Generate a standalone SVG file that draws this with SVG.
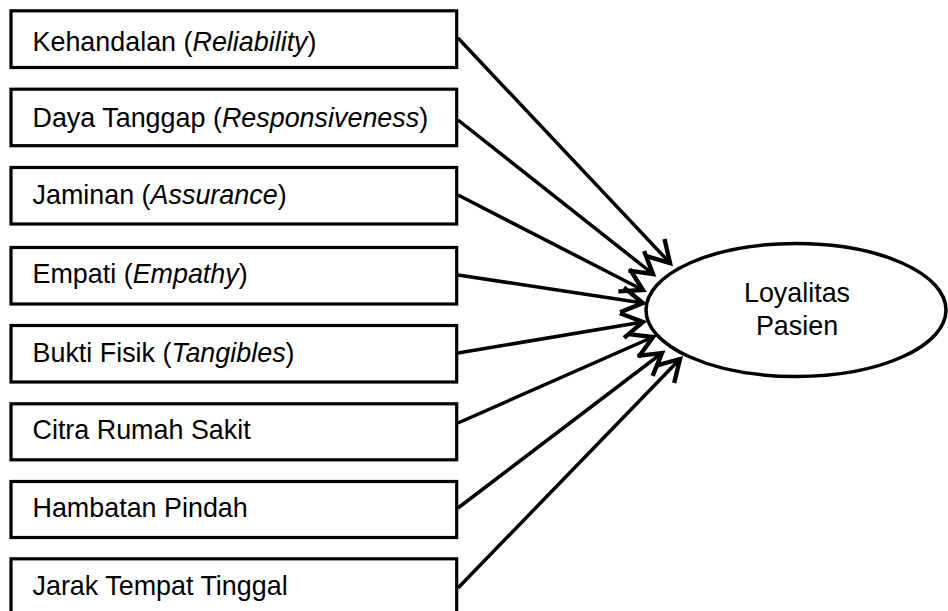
<svg xmlns="http://www.w3.org/2000/svg" width="948" height="611" viewBox="0 0 948 611">
<defs>
<style>
.box{fill:#fff;stroke:#000;stroke-width:3.2}
.lbl{font-family:"Liberation Sans",Arial,sans-serif;font-size:26.9px;fill:#000}
.it{font-style:italic}
.conn line{stroke:#000;stroke-width:3.5;fill:none}
</style>
<marker id="ah" markerUnits="userSpaceOnUse" markerWidth="30" markerHeight="30" viewBox="-20 -12 24 24" refX="0" refY="0" orient="auto">
<path d="M-17,-10 L0,0 L-17,10" fill="none" stroke="#000" stroke-width="3.5" stroke-linejoin="miter"/>
</marker>
</defs>
<rect width="948" height="611" fill="#fff"/>
<g id="n1"><rect class="box" x="11" y="10.8" width="445.7" height="56.7"/><text class="lbl" x="32.5" y="50.5">Kehandalan (<tspan class="it">Reliability</tspan>)</text></g>
<g id="n2"><rect class="box" x="11" y="89.2" width="445.7" height="56.5"/><text class="lbl" x="32.5" y="126.5">Daya Tanggap (<tspan class="it">Responsiveness</tspan>)</text></g>
<g id="n3"><rect class="box" x="11" y="167.5" width="445.7" height="56.5"/><text class="lbl" x="32.5" y="203.5">Jaminan (<tspan class="it">Assurance</tspan>)</text></g>
<g id="n4"><rect class="box" x="11" y="247.5" width="445.7" height="56.5"/><text class="lbl" x="32.5" y="282.5">Empati (<tspan class="it">Empathy</tspan>)</text></g>
<g id="n5"><rect class="box" x="11" y="325.5" width="445.7" height="56.5"/><text class="lbl" x="32.5" y="362">Bukti Fisik (<tspan class="it">Tangibles</tspan>)</text></g>
<g id="n6"><rect class="box" x="11" y="403.8" width="445.7" height="56"/><text class="lbl" x="32.5" y="438.5">Citra Rumah Sakit</text></g>
<g id="n7"><rect class="box" x="11" y="481.5" width="445.7" height="56"/><text class="lbl" x="32.5" y="517">Hambatan Pindah</text></g>
<g id="n8"><rect class="box" x="11" y="558.8" width="445.7" height="56.5"/><text class="lbl" x="32.5" y="595">Jarak Tempat Tinggal</text></g>
<g id="target"><ellipse cx="796" cy="310" rx="150" ry="66.5" fill="#fff" stroke="#000" stroke-width="3.5"/>
<text class="lbl" x="797" y="302" text-anchor="middle">Loyalitas</text>
<text class="lbl" x="797" y="335" text-anchor="middle">Pasien</text></g>
<g id="connectors" class="conn">
<line x1="458" y1="38" x2="670" y2="263" marker-end="url(#ah)"/>
<line x1="458" y1="120" x2="653" y2="274" marker-end="url(#ah)"/>
<line x1="458" y1="195" x2="643" y2="290" marker-end="url(#ah)"/>
<line x1="458" y1="275" x2="643" y2="303" marker-end="url(#ah)"/>
<line x1="458" y1="353" x2="643" y2="322" marker-end="url(#ah)"/>
<line x1="458" y1="423" x2="653" y2="337" marker-end="url(#ah)"/>
<line x1="458" y1="508" x2="662" y2="353" marker-end="url(#ah)"/>
<line x1="458" y1="588" x2="680" y2="359" marker-end="url(#ah)"/>
</g>
</svg>
